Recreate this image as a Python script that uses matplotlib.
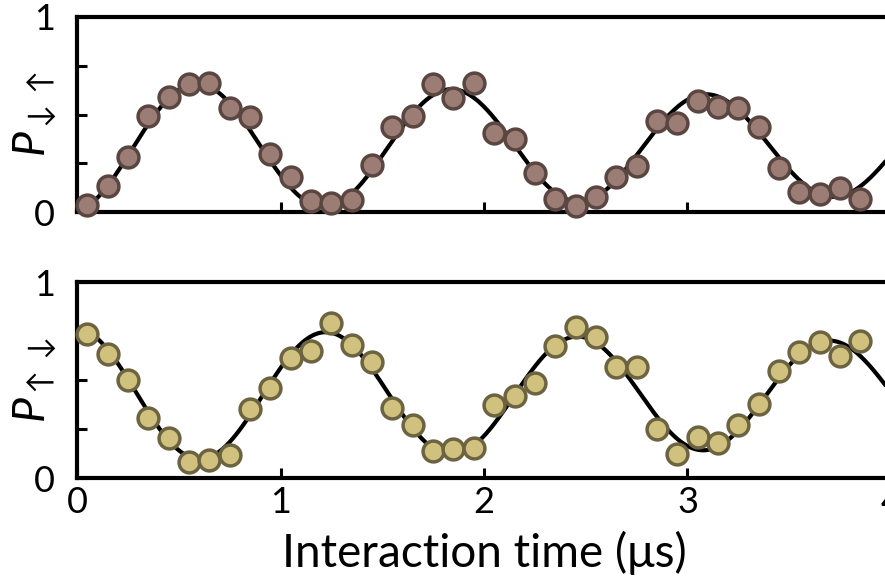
import numpy as np
import matplotlib
matplotlib.use("Agg")
import matplotlib.pyplot as plt

# ---------------- data ----------------
time_us = [0.05, 0.15, 0.25, 0.35, 0.45, 0.55, 0.65, 0.75, 0.85, 0.95,
           1.05, 1.15, 1.25, 1.35, 1.45, 1.55, 1.65, 1.75, 1.85, 1.95,
           2.05, 2.15, 2.25, 2.35, 2.45, 2.55, 2.65, 2.75, 2.85, 2.95,
           3.05, 3.15, 3.25, 3.35, 3.45, 3.55, 3.65, 3.75, 3.85]

p_down_up = [0.036, 0.135, 0.28, 0.49, 0.59, 0.656, 0.66, 0.535, 0.486, 0.30,
             0.18, 0.056, 0.045, 0.062, 0.24, 0.437, 0.49, 0.656, 0.583, 0.66,
             0.403, 0.373, 0.198, 0.067, 0.032, 0.078, 0.18, 0.237, 0.468, 0.458,
             0.571, 0.537, 0.532, 0.437, 0.227, 0.104, 0.091, 0.125, 0.067]

p_up_down = [0.735, 0.631, 0.50, 0.308, 0.206, 0.080, 0.092, 0.117, 0.35, 0.458,
             0.614, 0.648, 0.789, 0.679, 0.59, 0.359, 0.27, 0.138, 0.146, 0.151,
             0.372, 0.42, 0.486, 0.673, 0.772, 0.721, 0.565, 0.568, 0.248, 0.122,
             0.211, 0.177, 0.27, 0.376, 0.546, 0.644, 0.695, 0.622, 0.70]

x_ticks = [0, 1, 2, 3, 4]
y_ticks = [0, 0.25, 0.5, 0.75, 1]
y_tick_labels = ["0", "", "", "", "1"]
x_label = "Interaction time (μs)"
y_labels = [r"$P_{\downarrow\uparrow}$", r"$P_{\uparrow\downarrow}$"]

face_colors = ["#9c7d75", "#d0c17f"]
edge_colors = ["#5a4641", "#6c6340"]


def fit_damped(t, y):
    """Least-squares fit of c + exp(-t/tau)(A cos wt + B sin wt)."""
    t = np.asarray(t, float)
    y = np.asarray(y, float)
    best = None
    for w in np.linspace(4.0, 6.5, 126):
        for tau in np.linspace(0.5, 30, 60):
            e = np.exp(-t / tau)
            M = np.column_stack([np.ones_like(t), e * np.cos(w * t), e * np.sin(w * t)])
            coef = np.linalg.lstsq(M, y, rcond=None)[0]
            r = np.sum((M @ coef - y) ** 2)
            if best is None or r < best[0]:
                best = (r, w, tau, coef)
    _, w, tau, coef = best

    def f(tt):
        e = np.exp(-tt / tau)
        return coef[0] + e * (coef[1] * np.cos(w * tt) + coef[2] * np.sin(w * tt))
    return f


plt.rcParams["font.family"] = ["Lato", "DejaVu Sans"]
plt.rcParams["mathtext.fontset"] = "custom"
plt.rcParams["mathtext.it"] = "Lato:italic"
plt.rcParams["mathtext.rm"] = "Lato"

W, H = 885, 579
fig = plt.figure(figsize=(W / 100, H / 100), dpi=100)

left = 77 / W
right = 891 / W
panels = [
    (1 - 212 / H, (212 - 17) / H),
    (1 - 478 / H, (478 - 282) / H),
]
series = [p_down_up, p_up_down]

t_fine = np.linspace(0, 4.05, 600)

for i, ((b, h), yvals) in enumerate(zip(panels, series)):
    ax = fig.add_axes([left, b, right - left, h])
    f = fit_damped(time_us, yvals)
    ax.plot(t_fine, f(t_fine), color="black", lw=3.0, zorder=2, solid_capstyle="butt")
    ax.plot(time_us, yvals, "o", ms=15, mew=2.5, mfc=face_colors[i],
            mec=edge_colors[i], zorder=3, clip_on=False)
    ax.set_xlim(0, 4)
    ax.set_ylim(0, 1)
    ax.set_xticks(x_ticks)
    ax.set_yticks(y_ticks)
    ax.set_yticklabels(y_tick_labels)
    if i == 1:
        ax.set_xticklabels([str(v) for v in x_ticks])
        ax.set_xlabel(x_label, fontsize=33, labelpad=8)
    else:
        ax.set_xticklabels([])
    ax.tick_params(axis="both", direction="in", length=7, width=2.2,
                   labelsize=26, top=False, right=False)
    ax.tick_params(axis="y", pad=16)
    ax.tick_params(axis="x", pad=6)
    for s in ["left", "top", "bottom", "right"]:
        ax.spines[s].set_linewidth(3.0)
    ax.set_ylabel(y_labels[i], fontsize=32)
    ax.yaxis.set_label_coords(-0.022, 0.5)

fig.savefig("out.png", dpi=100)
